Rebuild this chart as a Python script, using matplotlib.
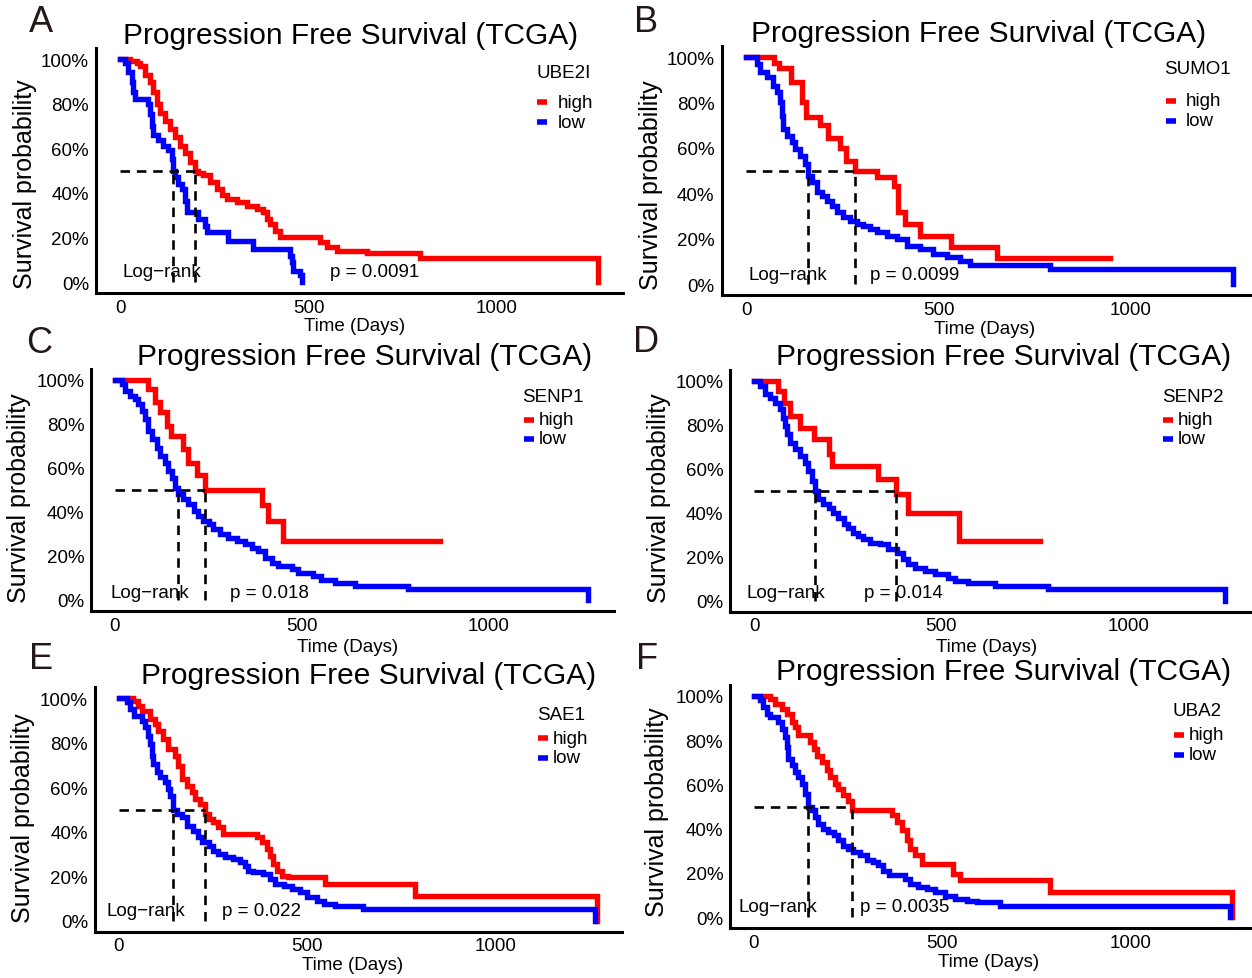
import matplotlib
matplotlib.use("Agg")
import matplotlib.pyplot as plt
from matplotlib.lines import Line2D

plt.rcParams['font.family'] = ['Liberation Sans', 'DejaVu Sans']

# ---------------- data ----------------
TITLE = "Progression Free Survival (TCGA)"
panel_letters = ["A", "B", "C", "D", "E", "F"]
genes = ["UBE2I", "SUMO1", "SENP1", "SENP2", "SAE1", "UBA2"]
p_labels = ["p = 0.0091", "p = 0.0099", "p = 0.018", "p = 0.014", "p = 0.022", "p = 0.0035"]
group_labels = ["high", "low"]
x_ticks = [0, 500, 1000]
y_ticks = [0, 0.2, 0.4, 0.6, 0.8, 1.0]
y_tick_labels = ["0%", "20%", "40%", "60%", "80%", "100%"]

A_high_t = [0, 27, 44, 53, 66, 80, 88, 97, 106, 119, 133, 146, 159, 172, 186, 199, 208, 221, 239, 256,
            270, 283, 310, 336, 363, 380, 389, 398, 411, 424, 531, 548, 575, 654, 796, 1269]
A_high_s = [1.00, 0.99, 0.98, 0.97, 0.93, 0.895, 0.85, 0.80, 0.76, 0.72, 0.686, 0.65, 0.61, 0.58, 0.54, 0.50, 0.49, 0.478, 0.448, 0.418,
            0.39, 0.372, 0.357, 0.342, 0.327, 0.312, 0.282, 0.26, 0.23, 0.204, 0.178, 0.155, 0.14, 0.13, 0.106, 0.0]
A_low_t = [0, 13, 22, 31, 35, 40, 75, 80, 84, 88, 102, 115, 128, 137, 141, 146, 155, 164, 172, 177,
           208, 225, 230, 287, 354, 451, 455, 460, 477, 482]
A_low_s = [1.0, 0.98, 0.94, 0.895, 0.85, 0.82, 0.80, 0.753, 0.70, 0.657, 0.635, 0.61, 0.59, 0.55, 0.50, 0.47, 0.44, 0.417, 0.365, 0.312,
           0.282, 0.252, 0.226, 0.186, 0.148, 0.118, 0.088, 0.051, 0.03, 0.0]

B_high_t = [0, 72, 86, 118, 146, 157, 192, 214, 244, 261, 283, 339, 385, 396, 414, 452, 532, 652, 945]
B_high_s = [1.0, 0.975, 0.95, 0.89, 0.80, 0.735, 0.70, 0.645, 0.60, 0.54, 0.50, 0.47, 0.43, 0.315, 0.265, 0.213, 0.165, 0.113, 0.113]
B_low_t = [0, 28, 36, 54, 71, 80, 88, 93, 97, 106, 119, 127, 140, 153, 162, 171, 184, 197, 210, 223,
           236, 253, 270, 288, 305, 322, 340, 365, 391, 417, 452, 487, 521, 556, 582, 790, 1266]
B_low_s = [1.0, 0.969, 0.932, 0.91, 0.874, 0.844, 0.80, 0.742, 0.683, 0.654, 0.624, 0.595, 0.565, 0.529, 0.477, 0.448, 0.404, 0.389, 0.367, 0.345,
           0.316, 0.294, 0.279, 0.265, 0.257, 0.242, 0.228, 0.213, 0.198, 0.169, 0.154, 0.132, 0.117, 0.103, 0.084, 0.066, 0.0]

C_high_t = [0, 89, 107, 120, 138, 151, 183, 196, 218, 241, 392, 410, 450, 870]
C_high_s = [1.0, 0.96, 0.90, 0.855, 0.79, 0.745, 0.685, 0.625, 0.57, 0.50, 0.43, 0.36, 0.268, 0.268]
C_low_t = [0, 18, 27, 40, 54, 62, 71, 80, 89, 98, 111, 120, 134, 143, 152, 160, 169, 183, 196, 210,
           223, 236, 250, 263, 281, 303, 325, 348, 366, 383, 401, 419, 437, 472, 490, 530, 552, 588, 642, 784, 1266]
C_low_s = [1.0, 0.98, 0.95, 0.927, 0.912, 0.889, 0.859, 0.821, 0.768, 0.73, 0.692, 0.654, 0.624, 0.586, 0.556, 0.511, 0.48, 0.458, 0.435, 0.405,
           0.382, 0.359, 0.344, 0.321, 0.298, 0.283, 0.268, 0.253, 0.238, 0.223, 0.192, 0.17, 0.155, 0.14, 0.124, 0.109, 0.09, 0.079, 0.064, 0.048, 0.0]

D_high_t = [0, 65, 81, 96, 123, 161, 200, 207, 332, 378, 410, 548, 764]
D_high_s = [1.0, 0.955, 0.90, 0.84, 0.785, 0.735, 0.667, 0.613, 0.552, 0.484, 0.40, 0.27, 0.27]
D_low_t = [0, 16, 29, 43, 56, 69, 78, 83, 87, 96, 110, 123, 136, 145, 154, 163, 172, 185, 199, 212,
           225, 239, 252, 265, 279, 292, 310, 337, 359, 381, 399, 412, 430, 457, 483, 519, 537, 572, 644, 786, 1258]
D_low_s = [1.0, 0.976, 0.938, 0.923, 0.90, 0.87, 0.832, 0.794, 0.756, 0.718, 0.688, 0.658, 0.627, 0.589, 0.544, 0.50, 0.461, 0.438, 0.423, 0.40,
           0.377, 0.347, 0.332, 0.309, 0.294, 0.279, 0.264, 0.256, 0.234, 0.218, 0.188, 0.165, 0.15, 0.135, 0.12, 0.105, 0.09, 0.082, 0.067, 0.052, 0.0]

E_high_t = [0, 38, 52, 61, 83, 96, 105, 118, 131, 149, 158, 167, 180, 193, 202, 216, 229, 238, 251, 264,
            277, 366, 379, 392, 401, 410, 419, 432, 450, 547, 786, 1268]
E_high_s = [1.0, 0.989, 0.967, 0.944, 0.907, 0.884, 0.854, 0.817, 0.772, 0.742, 0.697, 0.637, 0.607, 0.577, 0.547, 0.524, 0.48, 0.457, 0.442, 0.42,
            0.39, 0.375, 0.352, 0.322, 0.292, 0.255, 0.225, 0.202, 0.195, 0.165, 0.112, 0.0]
E_low_t = [0, 21, 30, 39, 61, 70, 78, 83, 87, 92, 100, 109, 123, 131, 136, 145, 154, 167, 180, 198,
           211, 220, 238, 251, 264, 282, 304, 322, 335, 344, 357, 383, 401, 414, 437, 459, 481, 498, 525, 543,
           574, 649, 1263]
E_low_s = [1.0, 0.982, 0.952, 0.922, 0.899, 0.869, 0.832, 0.794, 0.742, 0.705, 0.667, 0.645, 0.622, 0.592, 0.562, 0.50, 0.48, 0.465, 0.427, 0.405,
           0.375, 0.352, 0.337, 0.315, 0.30, 0.285, 0.277, 0.262, 0.247, 0.225, 0.217, 0.21, 0.187, 0.165, 0.158, 0.142, 0.127, 0.105, 0.09, 0.075,
           0.068, 0.053, 0.0]

F_high_t = [0, 43, 56, 73, 87, 100, 109, 118, 149, 158, 166, 180, 193, 202, 215, 224, 237, 250, 259, 365,
            379, 392, 405, 414, 427, 445, 529, 547, 786, 1268]
F_high_s = [1.0, 0.986, 0.964, 0.941, 0.919, 0.881, 0.859, 0.821, 0.791, 0.761, 0.73, 0.70, 0.663, 0.633, 0.602, 0.58, 0.55, 0.527, 0.482, 0.46,
            0.43, 0.392, 0.347, 0.31, 0.28, 0.242, 0.197, 0.167, 0.114, 0.0]
F_low_t = [0, 16, 25, 34, 43, 65, 73, 82, 87, 91, 100, 109, 118, 127, 135, 144, 153, 162, 171, 184,
           197, 211, 224, 237, 250, 264, 281, 299, 317, 330, 343, 357, 401, 414, 436, 458, 480, 507, 533, 564,
           591, 653, 1263]
F_low_s = [1.0, 0.979, 0.949, 0.919, 0.903, 0.881, 0.851, 0.813, 0.768, 0.716, 0.686, 0.655, 0.633, 0.603, 0.558, 0.50, 0.482, 0.452, 0.422, 0.40,
           0.385, 0.37, 0.347, 0.324, 0.309, 0.294, 0.279, 0.257, 0.249, 0.234, 0.211, 0.189, 0.174, 0.151, 0.136, 0.128, 0.113, 0.098, 0.083, 0.075,
           0.068, 0.053, 0.0]

curves = [
    ((A_high_t, A_high_s), (A_low_t, A_low_s)),
    ((B_high_t, B_high_s), (B_low_t, B_low_s)),
    ((C_high_t, C_high_s), (C_low_t, C_low_s)),
    ((D_high_t, D_high_s), (D_low_t, D_low_s)),
    ((E_high_t, E_high_s), (E_low_t, E_low_s)),
    ((F_high_t, F_high_s), (F_low_t, F_low_s)),
]

# ---------------- layout / style ----------------
W, H = 1252, 979
RED, BLUE = "#FF0000", "#0000FF"
COLORS = [RED, BLUE]
XLIM = (-63.5, 1333.5)
YLIM = (-0.05, 1.05)

# pixel of t=0, pixels per day, pixel of 0%, pixel of 100%
geom = [
    (120.0, 0.377, 283.0, 60.0),
    (746.0, 0.385, 285.0, 58.0),
    (115.0, 0.374, 601.0, 381.0),
    (754.0, 0.3745, 601.7, 381.7),
    (118.8, 0.377, 921.7, 699.3),
    (754.0, 0.3768, 918.3, 696.7),
]
letter_pos = [(41, 22), (646, 22), (39, 344), (646, 343), (41, 660), (647, 660)]
title_pos = [(351, 36), (979, 34), (365, 357), (1004, 357), (369, 676), (1004, 672)]
ylabel_pos = [(25, 184), (651, 185), (19, 498), (659, 498), (23, 818), (657, 812)]
xlabel_pos = [(355, 327), (985, 330), (348, 647), (987, 647), (353, 966), (989, 963)]
logrank_pos = [(122, 273), (748, 275), (110, 593), (746, 593), (106, 912), (739, 908)]
pval_pos = [(330, 273), (870, 275), (230, 593), (864, 593), (222, 912), (860, 908)]
# title_x, title_y, key_x0, key_x1, label_x, y_high, y_low
legend_pos = [
    (536, 73, 537, 547, 558, 103, 123),
    (1164, 70, 1166, 1176, 1186, 102, 122),
    (522, 398, 524, 534, 539, 421, 440),
    (1162, 398, 1163, 1173, 1178, 421, 440),
    (537, 715, 538, 548, 553, 739, 759),
    (1173, 712, 1174, 1184, 1189, 736, 756),
]


def fx(x):
    return x / W


def fy(y):
    return 1 - y / H


def median_time(t, s):
    for ti, si in zip(t, s):
        if si <= 0.5:
            return ti
    return None


fig = plt.figure(figsize=(W / 100, H / 100), dpi=100)

for i in range(6):
    x0, k, y0, y100 = geom[i]
    ph = y0 - y100
    left = x0 + k * XLIM[0]
    right = x0 + k * XLIM[1]
    bottom = y0 - ph * YLIM[0]
    top = y0 - ph * YLIM[1]
    ax = fig.add_axes([fx(left), fy(bottom), (right - left) / W, (bottom - top) / H])
    ax.set_xlim(*XLIM)
    ax.set_ylim(*YLIM)

    meds = []
    for (t, s), c in zip(curves[i], COLORS):
        ax.step(t, s, where='post', color=c, lw=3.9, solid_joinstyle='miter', zorder=3)
        meds.append(median_time(t, s))

    mmax = max(meds)
    ax.plot([0, mmax], [0.5, 0.5], color='black', lw=1.9, dashes=(3.6, 2.6), zorder=4)
    for m in meds:
        ax.plot([m, m], [0, 0.5], color='black', lw=1.9, dashes=(3.6, 2.6), zorder=4)

    for side in ['top', 'right']:
        ax.spines[side].set_visible(False)
    for side in ['left', 'bottom']:
        ax.spines[side].set_linewidth(2.2)
        ax.spines[side].set_color('black')
    ax.set_xticks(x_ticks)
    ax.set_xticklabels([str(v) for v in x_ticks])
    ax.set_yticks(y_ticks)
    ax.set_yticklabels(y_tick_labels)
    ax.tick_params(axis='both', length=0, labelsize=13.5, colors='black')
    ax.tick_params(axis='x', pad=4)
    ax.tick_params(axis='y', pad=5)
    ax.patch.set_alpha(0)

    # texts
    fig.text(fx(letter_pos[i][0]), fy(letter_pos[i][1]), panel_letters[i], fontsize=26,
             ha='center', va='center', color='#231815')
    fig.text(fx(title_pos[i][0]), fy(title_pos[i][1]), TITLE, fontsize=21.5,
             ha='center', va='center', color='black')
    fig.text(fx(ylabel_pos[i][0]), fy(ylabel_pos[i][1]), "Survival probability", fontsize=18,
             rotation=90, ha='center', va='center', color='black')
    fig.text(fx(xlabel_pos[i][0]), fy(xlabel_pos[i][1]), "Time (Days)", fontsize=13.5,
             ha='center', va='center', color='black')
    fig.text(fx(logrank_pos[i][0]), fy(logrank_pos[i][1]), "Log\u2212rank", fontsize=13.5,
             ha='left', va='center', color='black')
    fig.text(fx(pval_pos[i][0]), fy(pval_pos[i][1]), p_labels[i], fontsize=13.5,
             ha='left', va='center', color='black')

    # legend
    tx, ty, kx0, kx1, lx, yh, yl = legend_pos[i]
    fig.text(fx(tx), fy(ty), genes[i], fontsize=13.5, ha='left', va='center', color='black')
    for lab, c, yy in zip(group_labels, COLORS, [yh, yl]):
        fig.add_artist(Line2D([fx(kx0), fx(kx1)], [fy(yy), fy(yy)], transform=fig.transFigure,
                              color=c, lw=4, solid_capstyle='butt'))
        fig.text(fx(lx), fy(yy), lab, fontsize=13.5, ha='left', va='center', color='black')

fig.savefig("out.png", dpi=100)
